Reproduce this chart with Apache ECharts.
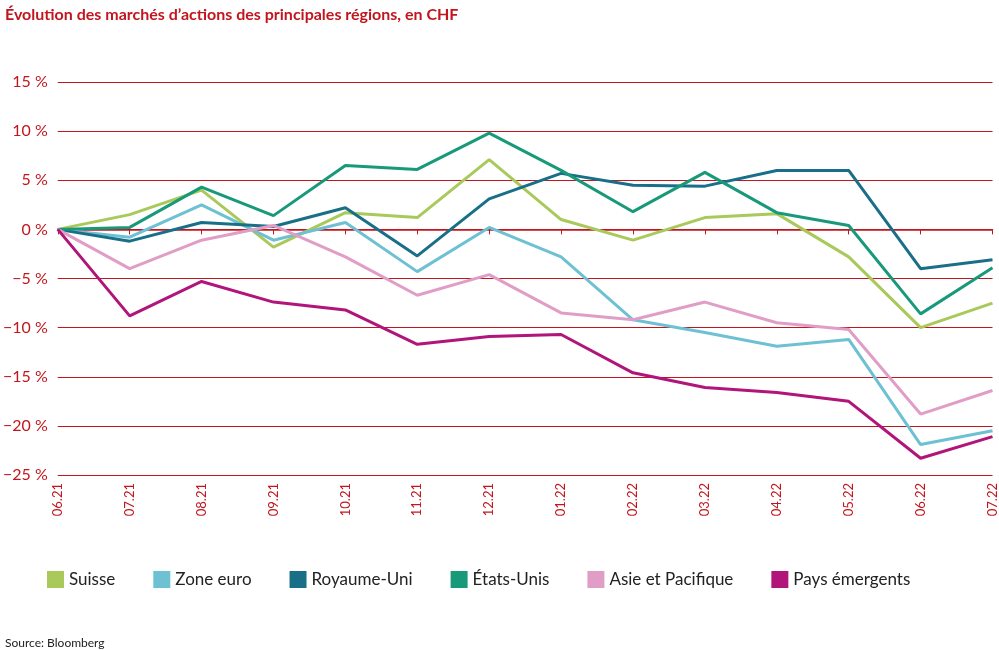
<!DOCTYPE html>
<html><head><meta charset="utf-8">
<script src="https://cdn.jsdelivr.net/npm/echarts@6/dist/echarts.min.js"></script>
<style>html,body{margin:0;padding:0;background:#fff}#c{width:999px;height:650px}</style>
</head><body><div id="c"></div>
<script>
const months = ['06.21','07.21','08.21','09.21','10.21','11.21','12.21','01.22','02.22','03.22','04.22','05.22','06.22','07.22'];
const suisse = [0, 1.5, 4, -1.8, 1.7, 1.2, 7.1, 1, -1.1, 1.2, 1.6, -2.8, -10, -7.5];
const zoneEuro = [0, -0.8, 2.5, -1.1, 0.7, -4.3, 0.2, -2.8, -9.2, -10.5, -11.9, -11.2, -21.9, -20.5];
const royaumeUni = [0, -1.2, 0.7, 0.3, 2.2, -2.7, 3.1, 5.7, 4.5, 4.4, 6, 6, -4, -3.1];
const etatsUnis = [0, 0.2, 4.3, 1.4, 6.5, 6.1, 9.8, 6, 1.8, 5.8, 1.7, 0.4, -8.6, -3.9];
const asie = [0, -4, -1.1, 0.4, -2.8, -6.7, -4.6, -8.5, -9.2, -7.4, -9.5, -10.2, -18.8, -16.4];
const emergents = [0, -8.8, -5.3, -7.4, -8.2, -11.7, -10.9, -10.7, -14.6, -16.1, -16.6, -17.5, -23.3, -21.1];

const red = '#c2161e';
const font = 'Lato';
const chart = echarts.init(document.getElementById('c'));
const line = (name, data, color) => ({
	name, type: 'line', data, symbol: 'none', animation: false,
	lineStyle: { color, width: 3 }, itemStyle: { color }
});
chart.setOption({
	textStyle: { fontFamily: font },
	title: [
		{ text: 'Évolution des marchés d’actions des principales régions, en CHF', left: 0, top: 2,
			textStyle: { color: red, fontSize: 16, fontWeight: 'bold', fontFamily: font } },
		{ text: 'Source: Bloomberg', left: 0, top: 632,
			textStyle: { color: '#222', fontSize: 12, fontWeight: 'normal', fontFamily: font } }
	],
	legend: {
		top: 566, left: 42, itemWidth: 17, itemHeight: 17, itemGap: 38, icon: 'rect',
		textStyle: { color: '#222', fontSize: 17, fontFamily: font }
	},
	grid: { left: 57, right: 4, top: 82, bottom: 175 },
	xAxis: {
		type: 'category', data: months, boundaryGap: false,
		axisLine: { lineStyle: { color: red, width: 1.5 } },
		axisTick: { show: true, lineStyle: { color: red }, length: 5 },
		axisLabel: { rotate: 90, color: red, fontSize: 13, interval: 0, margin: 8 }
	},
	yAxis: {
		type: 'value', min: -25, max: 15, interval: 5,
		axisLine: { show: false }, axisTick: { show: false },
		axisLabel: { color: red, fontSize: 16, margin: 10,
			formatter: v => (v < 0 ? '−' + (-v) : v) + ' %' },
		splitLine: { lineStyle: { color: red, width: 1.2 } }
	},
	series: [
		line('Suisse', suisse, '#a9c95b'),
		line('Zone euro', zoneEuro, '#6dc1d2'),
		line('Royaume-Uni', royaumeUni, '#196f87'),
		line('États-Unis', etatsUnis, '#18997a'),
		line('Asie et Pacifique', asie, '#e09ec7'),
		line('Pays émergents', emergents, '#b1157a')
	]
});
</script></body></html>
